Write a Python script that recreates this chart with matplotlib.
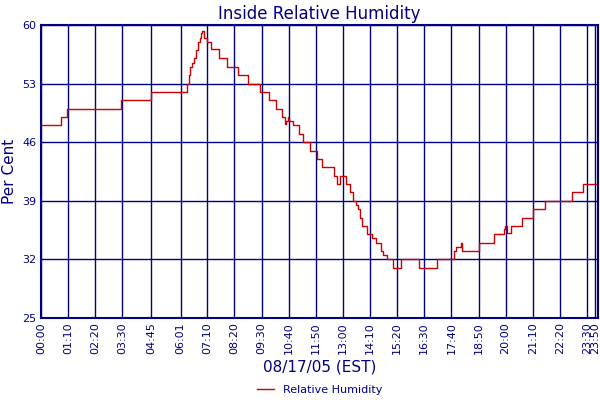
import matplotlib
matplotlib.use("Agg")
import matplotlib.pyplot as plt

# minutes since midnight, relative humidity (step data)
times = [0, 51, 68, 206, 284, 378, 383, 386, 390, 395, 400, 405, 410, 414, 417, 421, 428, 440, 460, 480,
         509, 535, 565, 589, 606, 622, 630, 633, 637, 640, 651, 666, 676, 696, 712, 727, 757, 765, 772,
         780, 789, 798, 806, 813, 819, 824, 830, 841, 856, 866, 877, 884, 893, 908, 931, 977, 1023, 1066,
         1073, 1085, 1088, 1095, 1131, 1170, 1195, 1198, 1203, 1215, 1241, 1271, 1301, 1372, 1400, 1439]
values = [48, 49, 50, 51, 52, 53, 54, 55, 55.5, 56, 57, 58, 58.5, 59, 59.3, 58.5, 58, 57.1, 56, 55,
          54, 53, 52, 51, 50, 49, 48.2, 48.5, 49, 48.5, 48, 47, 46, 45, 44, 43, 42, 41, 42,
          42, 41, 40, 39, 38.5, 38, 37, 36, 35, 34.5, 34, 33, 32.5, 32, 31, 32, 31, 32,
          33, 33.5, 34, 33, 33, 34, 35, 35.6, 36, 35.2, 36, 37, 38, 39, 40, 41, 41]
tick_labels = ["00:00", "01:10", "02:20", "03:30", "04:45", "06:01", "07:10", "08:20", "09:30", "10:40",
               "11:50", "13:00", "14:10", "15:20", "16:30", "17:40", "18:50", "20:00", "21:10", "22:20",
               "23:30", "23:50"]
yticks = [25, 32, 39, 46, 53, 60]

def to_min(s):
    h, m = s.split(":")
    return int(h) * 60 + int(m)

navy = "#000080"
fig = plt.figure(figsize=(6, 4), dpi=100)
ax = fig.add_axes([0.068, 0.205, 0.929, 0.7325])
ax.plot(times, values, drawstyle="steps-post", color="#cc0000", lw=1, label="Relative Humidity")
ax.set_xlim(0, 1439)
ax.set_ylim(25, 60)
ax.set_xticks([to_min(t) for t in tick_labels])
ax.set_xticklabels(tick_labels, rotation=90, fontsize=8, color=navy)
ax.set_yticks(yticks)
ax.set_yticklabels([str(v) for v in yticks], fontsize=8, color=navy)
ax.tick_params(length=0, pad=3)
ax.grid(True, color=navy, lw=1)
for s in ax.spines.values():
    s.set_color(navy)
    s.set_linewidth(1.5)
ax.set_title("Inside Relative Humidity", color=navy, fontsize=12, pad=4)
ax.set_xlabel("08/17/05 (EST)", color=navy, fontsize=11, labelpad=4)
ax.set_ylabel("Per Cent", color=navy, fontsize=11, labelpad=4)
ax.legend(loc="center", bbox_to_anchor=(0.5, -0.245), frameon=False, fontsize=8,
          handlelength=1.5, labelcolor=navy, borderpad=0)
fig.savefig("out.png", dpi=100)
